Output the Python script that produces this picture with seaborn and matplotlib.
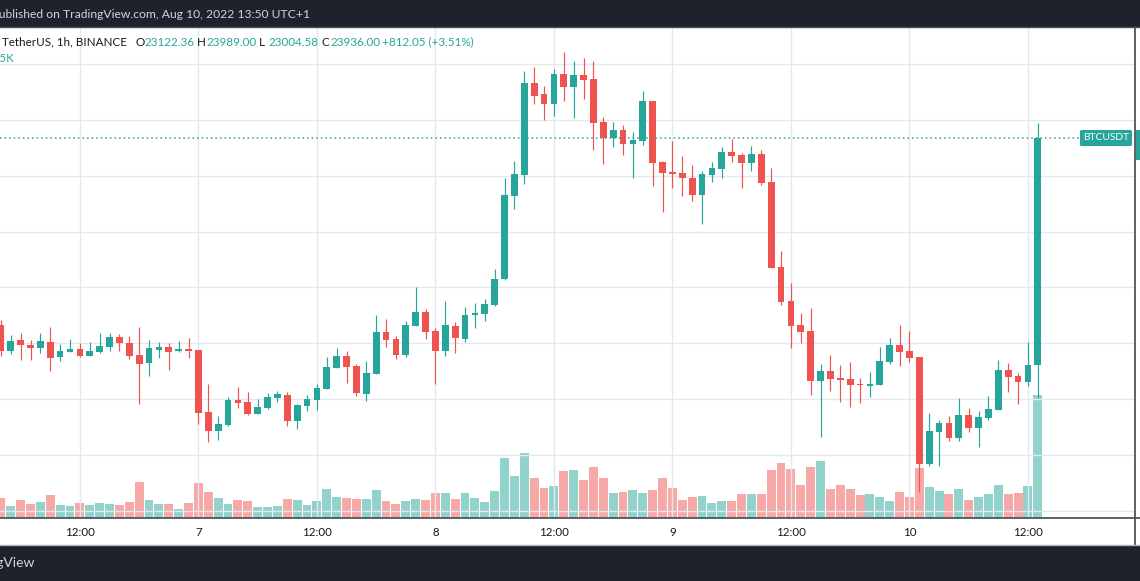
"""BTCUSDT 1h candles with volume, TradingView style snapshot."""
import matplotlib

matplotlib.use("Agg")
import matplotlib.dates as mdates
import matplotlib.pyplot as plt
import numpy as np
import pandas as pd
import seaborn as sns
from matplotlib.lines import Line2D
from matplotlib.patches import FancyBboxPatch, Rectangle
from matplotlib.ticker import FuncFormatter

sns.set_theme(style="white")
plt.rcParams["font.family"] = ["Lato", "DejaVu Sans"]

W, H = 1140, 581
UP, DOWN = "#26a69a", "#ef5350"
UP_VOL, DOWN_VOL = "#92d2cc", "#f7a9a7"
GRID = "#e2e8ee"
DARK = "#1e222d"
TEXT = "#131722"

# hourly candles, Aug 6 04:00 -> Aug 10 13:00
start = "2022-08-06 04:00"
opens = [
    23266, 23174, 23212, 23194, 23184, 23205, 23152, 23170, 23180, 23156,
    23170, 23188, 23223, 23201, 23158, 23131, 23177, 23187, 23174, 23180,
    23176, 22954, 22887, 22909, 22997, 22990, 22948, 22969, 23005, 23015,
    22923, 22977, 22998, 23037, 23113, 23154, 23119, 23020, 23091, 23240,
    23215, 23159, 23263, 23312, 23244, 23174, 23262, 23217, 23302, 23306,
    23338, 23430, 23729, 23804, 24132, 24093, 24058, 24164, 24119, 24161,
    24147, 23993, 23936, 23964, 23915, 23926, 24068, 23849, 23814, 23810,
    23792, 23732, 23804, 23825, 23886, 23874, 23847, 23878, 23778, 23473,
    23352, 23266, 23244, 23066, 23101, 23077, 23072, 23054, 23048, 23052,
    23134, 23194, 23173, 23151, 22769, 22884, 22915, 22862, 22943, 22898,
    22934, 22962, 23104, 23083, 23063, 23122.36,
]
highs = [
    23283, 23230, 23237, 23212, 23237, 23258, 23197, 23215, 23201, 23205,
    23237, 23237, 23233, 23226, 23258, 23212, 23205, 23201, 23208, 23219,
    23176, 23054, 22940, 23008, 23043, 23026, 23000, 23022, 23029, 23026,
    22983, 23015, 23054, 23151, 23183, 23172, 23126, 23137, 23303, 23287,
    23226, 23280, 23402, 23323, 23255, 23351, 23276, 23330, 23344, 23359,
    23466, 23792, 23853, 24175, 24190, 24122, 24182, 24243, 24211, 24222,
    24211, 24011, 23993, 23982, 23957, 24104, 24068, 23853, 23926, 23872,
    23839, 23817, 23849, 23904, 23933, 23883, 23907, 23892, 23828, 23531,
    23416, 23309, 23327, 23126, 23158, 23122, 23133, 23076, 23097, 23187,
    23219, 23266, 23244, 23151, 22950, 22925, 22940, 23004, 22968, 22958,
    23011, 23140, 23130, 23094, 23205, 23989.00,
]
lows = [
    23156, 23162, 23140, 23140, 23166, 23102, 23138, 23168, 23152, 23156,
    23166, 23174, 23174, 23145, 22984, 23084, 23149, 23106, 23170, 23149,
    22912, 22848, 22855, 22905, 22969, 22944, 22948, 22966, 22991, 22905,
    22894, 22959, 22962, 23037, 23113, 23059, 23012, 22995, 23091, 23188,
    23145, 23152, 23263, 23217, 23055, 23156, 23166, 23206, 23256, 23281,
    23335, 23425, 23682, 23772, 24058, 24001, 24015, 24069, 24008, 24076,
    23894, 23843, 23904, 23876, 23793, 23911, 23765, 23671, 23757, 23729,
    23711, 23629, 23779, 23793, 23851, 23757, 23818, 23768, 23471, 23338,
    23184, 23202, 23016, 22866, 23030, 22991, 22973, 22987, 23009, 23052,
    23127, 23120, 23134, 22669, 22762, 22762, 22851, 22851, 22884, 22830,
    22927, 22962, 23027, 22984, 23048, 23004.58,
]
closes = [
    23174, 23208, 23195, 23184, 23208, 23149, 23172, 23180, 23156, 23172,
    23190, 23223, 23201, 23156, 23127, 23183, 23187, 23170, 23180, 23174,
    22952, 22887, 22911, 22997, 22987, 22948, 22972, 23008, 23018, 22923,
    22979, 23000, 23040, 23115, 23154, 23116, 23023, 23094, 23240, 23213,
    23159, 23265, 23312, 23242, 23174, 23265, 23220, 23301, 23308, 23341,
    23430, 23731, 23806, 24132, 24087, 24058, 24164, 24119, 24161, 24144,
    23990, 23936, 23964, 23915, 23928, 24068, 23847, 23811, 23808, 23793,
    23732, 23806, 23829, 23886, 23872, 23847, 23878, 23775, 23471, 23349,
    23263, 23242, 23066, 23101, 23073, 23070, 23052, 23052, 23054, 23137,
    23194, 23170, 23149, 22769, 22886, 22915, 22862, 22943, 22898, 22936,
    22965, 23104, 23081, 23063, 23123.95, 23936.00,
]
volumes = [
    1015, 615, 915, 715, 815, 1165, 665, 615, 765, 665,
    765, 715, 665, 815, 1815, 915, 715, 715, 465, 765,
    1765, 1315, 1015, 715, 915, 865, 565, 565, 615, 965,
    915, 665, 865, 1465, 1065, 1015, 965, 965, 1415, 850,
    700, 850, 950, 900, 1250, 1250, 950, 1250, 1000, 800,
    1350, 3000, 2100, 3250, 2000, 1500, 1600, 2350, 2400, 1900,
    2550, 2000, 1250, 1300, 1400, 1250, 1400, 2000, 1500, 900,
    1050, 1100, 750, 850, 850, 1200, 1215, 1215, 2415, 2765,
    2465, 1665, 2565, 2865, 1465, 1665, 1465, 1165, 1215, 1065,
    865, 1315, 1065, 2515, 1565, 1365, 1215, 1465, 915, 1065,
    1215, 1665, 1215, 1265, 1615, 6165,
]

df = pd.DataFrame(
    {"open": opens, "high": highs, "low": lows, "close": closes, "volume": volumes},
    index=pd.date_range(start, periods=len(opens), freq="h"),
)
df["up"] = df["close"] >= df["open"]


def fx(px):
    return px / W


def fy(py):
    return 1 - py / H


fig = plt.figure(figsize=(W / 100, H / 100), dpi=100)
fig.patch.set_facecolor("white")

ax = fig.add_axes([0, fy(518), fx(1134.5), (518 - 27) / H])
ax_v = ax.twinx()
ax.set_zorder(ax_v.get_zorder() + 1)
ax.patch.set_visible(False)

x = mdates.date2num(df.index.to_pydatetime())
colors = np.where(df["up"], UP, DOWN)
vcolors = np.where(df["up"], UP_VOL, DOWN_VOL)

# volume
ax_v.bar(x, df["volume"], width=0.9 / 24, color=vcolors, linewidth=0)
ax_v.set_ylim(0, 24550)
ax_v.set_yticks([])
for s in ax_v.spines.values():
    s.set_visible(False)

# candles
body_lo = df[["open", "close"]].min(axis=1)
body_h = np.maximum((df["close"] - df["open"]).abs(), 3.6)
ax.vlines(x, df["low"], df["high"], colors=colors, lw=0.85, zorder=2)
ax.bar(x, body_h, bottom=body_lo, width=0.68 / 24, color=colors, linewidth=0, zorder=3)

last = df.iloc[-1]
prev_close = df["close"].iloc[-2]
ax.axhline(last["close"], xmin=0, xmax=1079 / 1134.5, color=UP, lw=1.1,
           ls=(0, (1, 2)), zorder=4)

t0 = mdates.date2num(pd.Timestamp("2022-08-07").to_pydatetime())
ax.set_xlim(t0 - 20.09 / 24, t0 + 94.79 / 24)
ax.set_ylim(24429.4 - 3.581 * 518, 24429.4 - 3.581 * 27)
ax.set_yticks(np.arange(22600, 24400, 200))
ax.xaxis.set_major_locator(mdates.HourLocator(byhour=[0, 12]))
ax.xaxis.set_major_formatter(FuncFormatter(
    lambda v, _: (str(mdates.num2date(v).day) if mdates.num2date(v).hour == 0
                  else mdates.num2date(v).strftime("%H:%M"))))
ax.grid(True, color=GRID, lw=1)
ax.set_axisbelow(True)
ax.tick_params(axis="x", length=0, pad=6.3, labelsize=8.3, labelcolor=TEXT)
ax.tick_params(axis="y", length=0, labelleft=False, labelright=False)
for s in ax.spines.values():
    s.set_visible(False)

# frame lines
fig.add_artist(Line2D([0, 1], [fy(518), fy(518)], color="#50535e", lw=1.3))
fig.add_artist(Line2D([fx(1134.5), fx(1134.5)], [fy(27), fy(545)],
                      color="#50535e", lw=1.3))

# header / footer bars
fig.add_artist(Rectangle((0, fy(26.5)), 1, 26.5 / H, color=DARK, lw=0))
fig.add_artist(Line2D([0, 1], [fy(26.5), fy(26.5)], color="#4a4e5a", lw=1))
fig.add_artist(Rectangle((0, 0), 1, (H - 545.5) / H, color=DARK, lw=0))
fig.add_artist(Line2D([0, 1], [fy(545), fy(545)], color="#b2b5be", lw=1))
fig.text(fx(310), fy(14), "published on TradingView.com, Aug 10, 2022 13:50 UTC+1",
         ha="right", va="center", color="#d1d4dc", fontsize=8.75)
fig.text(fx(35), fy(563), "TradingView", ha="right", va="center",
         color="#d1d4dc", fontsize=10)

# legend
ly = fy(42)
fig.text(fx(2), ly, "TetherUS, 1h, BINANCE", ha="left", va="center",
         color=TEXT, fontsize=8.4)
for lab, val, lx in [("O", last["open"], 135), ("H", last["high"], 197),
                     ("L", last["low"], 259), ("C", last["close"], 321)]:
    fig.text(fx(lx), ly, lab, ha="left", va="center", color=TEXT, fontsize=8.4)
    fig.text(fx(lx + 9), ly, f"{val:.2f}", ha="left", va="center",
             color=UP, fontsize=8.4)
chg = last["close"] - prev_close
fig.text(fx(382), ly, f"{chg:+.2f} ({chg / prev_close * 100:+.2f}%)",
         ha="left", va="center", color=UP, fontsize=8.4)
fig.text(fx(13.5), fy(59), f"Vol · BTC {last['volume'] / 1000:.3f}K",
         ha="right", va="center", color=UP, fontsize=8.4)

# price label
fig.add_artist(FancyBboxPatch((fx(1080), fy(146)), fx(52), 16 / H,
                              boxstyle="round,pad=0,rounding_size=0.002",
                              color=UP, lw=0))
fig.text(fx(1106), fy(138), "BTCUSDT", ha="center", va="center",
         color="white", fontsize=7.4)
fig.add_artist(Rectangle((fx(1135.5), fy(160)), fx(5), 30 / H, color=UP, lw=0))

fig.savefig("out.png", dpi=100)
